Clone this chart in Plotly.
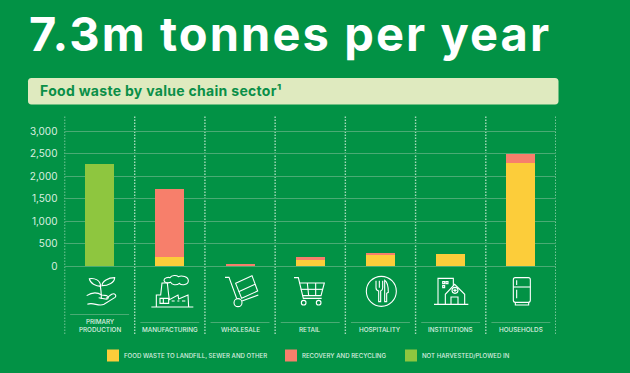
import re
import plotly.graph_objects as go

W, H = 630, 373
categories = ["PRIMARY<br>PRODUCTION", "MANUFACTURING", "WHOLESALE", "RETAIL",
              "HOSPITALITY", "INSTITUTIONS", "HOUSEHOLDS"]
landfill = [0, 200, 0, 140, 250, 260, 2300]
recovery = [0, 1522, 45, 60, 32, 0, 194]
not_harvested = [2278, 0, 0, 0, 0, 0, 0]
series_names = ["FOOD WASTE TO LANDFILL, SEWER AND OTHER", "RECOVERY AND RECYCLING", "NOT HARVESTED/PLOWED IN"]
tick_values = [0, 500, 1000, 1500, 2000, 2500, 3000]
tick_labels = ["0", "500", "1,000", "1,500", "2,000", "2,500", "3,000"]
title_text = "7.3m tonnes per year"
subtitle_text = "Food waste by value chain sector¹"

BG = "#029245"
YEL = "#fccd3a"
SAL = "#f77f6b"
GRN = "#8ec63f"
LIGHT = "#dcefe0"
GRID = "#4aab74"
FONT = "Inter"


def fx(x):
    return x / W


def fy(y):
    return 1 - y / H


def icon(path, ox):
    """Convert a path in zoomed crop units to paper coordinates."""
    toks = re.findall(r"[MLCQZ]|-?\d+\.?\d*", path)
    out, nums = [], []
    for t in toks:
        if t.isalpha():
            out.append(t)
        else:
            nums.append(float(t))
            if len(nums) == 2:
                out.append(f"{fx(ox + nums[0] / 3):.5f},{fy(265 + nums[1] / 3):.5f}")
                nums = []
    return " ".join(out)


def rounded_box(x0, y0, x1, y1, r):
    return (f"M {fx(x0 + r):.5f},{fy(y0):.5f} L {fx(x1 - r):.5f},{fy(y0):.5f} "
            f"Q {fx(x1):.5f},{fy(y0):.5f} {fx(x1):.5f},{fy(y0 + r):.5f} "
            f"L {fx(x1):.5f},{fy(y1 - r):.5f} Q {fx(x1):.5f},{fy(y1):.5f} {fx(x1 - r):.5f},{fy(y1):.5f} "
            f"L {fx(x0 + r):.5f},{fy(y1):.5f} Q {fx(x0):.5f},{fy(y1):.5f} {fx(x0):.5f},{fy(y1 - r):.5f} "
            f"L {fx(x0):.5f},{fy(y0 + r):.5f} Q {fx(x0):.5f},{fy(y0):.5f} {fx(x0 + r):.5f},{fy(y0):.5f} Z")


left_icons = [
    # plant in hand
    "M 184 102 C 184 88 184 75 180 60",
    "M 182 64 C 168 64 150 55 148 41 C 165 38 181 46 182 64 Z",
    "M 186 62 C 186 48 205 38 224 38 C 224 52 205 62 186 62 Z",
    "M 140 92 C 155 82 170 80 185 90 L 200 92 C 208 94 206 104 196 102 L 176 98",
    "M 198 100 L 215 88 C 224 83 232 92 224 98 L 192 118 C 175 126 160 110 142 118",
    # factory
    "M 334 126 L 460 126",
    "M 349 126 L 349 90 L 362 90 L 366 54 L 382 54 L 386 90 L 388 104 L 414 90 L 416 102 L 444 90 L 446 126",
    "M 360 100 L 386 100 L 386 115 L 360 115 Z",
    "M 370 100 L 370 115",
    "M 395 108 L 404 108 M 412 108 L 418 108 M 426 108 L 436 108",
    "M 372 46 C 372 38 385 36 390 38 C 395 30 410 30 415 35 C 425 30 445 35 445 47 C 445 60 425 62 418 55 C 410 62 395 60 392 52 C 385 55 372 54 372 46 Z",
    # trolley
    "M 555 37 L 567 37 L 590 100",
    "M 606 108 L 655 90",
    "M 587 55 L 636 32 L 653 78 L 605 100 Z",
    "M 596 80 L 645 58",
    # cart
    "M 762 38 L 775 38 L 790 100 L 845 100",
    "M 778 54 L 853 54 L 843 92 L 787 92",
    "M 782 73 L 849 73",
    "M 802 54 L 806 92 M 827 54 L 827 92",
]
left_circles = [(594, 113, 12), (791, 113, 7), (836, 113, 7)]

right_icons = [
    # cutlery
    "M 168 47 L 168 68 Q 168 76 176 78 L 176 110 L 182 110 L 182 78 Q 188 76 188 68 L 188 47",
    "M 178 47 L 178 68",
    "M 194 110 L 200 110 L 200 85 L 205 82 C 205 65 200 50 194 46 Z",
    # institutions
    "M 342 118 L 445 118",
    "M 354 118 L 354 40 L 400 40 L 400 62",
    "M 368 50 L 374 50 L 374 56 L 368 56 Z M 378 50 L 384 50 L 384 56 L 378 56 Z M 368 62 L 374 62 L 374 68 L 368 68 Z",
    "M 376 118 L 376 88 L 404 58 L 434 88 L 434 118",
    "M 393 118 L 393 96 L 414 96 L 414 118",
    "M 405 71 L 405 81 M 400 76 L 410 76",
    # fridge
    "M 586 38 L 625 38 Q 631 38 631 44 L 631 106 Q 631 112 625 112 L 586 112 Q 580 112 580 106 L 580 44 Q 580 38 586 38 Z",
    "M 580 66 L 631 66",
    "M 590 46 L 590 60 M 590 74 L 590 100",
    "M 586 112 L 586 120 L 626 120 L 626 112",
]
right_circles = [(184, 79, 45), (405, 76, 9)]

fig = go.Figure()
for vals, name, col in zip([landfill, recovery, not_harvested], series_names, [YEL, SAL, GRN]):
    fig.add_bar(x=categories, y=vals, name=name, marker_color=col, marker_line_width=0)

shapes = [dict(type="path", xref="paper", yref="paper", path=rounded_box(28, 78, 558.5, 104.5, 3.5),
               fillcolor="#dfeabf", line_width=0, layer="below")]
for i in range(8):
    shapes.append(dict(type="line", xref="x", yref="paper", x0=i - 0.5, x1=i - 0.5, y0=fy(334), y1=fy(115),
                       line=dict(color="#a9dabc", width=1.4, dash="1.5px,1.5px"), layer="below"))
for i in range(7):
    y = fy(314.5) if i == 0 else fy(322.5)
    shapes.append(dict(type="line", xref="x", yref="paper", x0=i - 0.42, x1=i + 0.42, y0=y, y1=y,
                       line=dict(color=GRID, width=1), layer="below"))
stroke = dict(color="white", width=1.1)
for p in left_icons:
    shapes.append(dict(type="path", xref="paper", yref="paper", path=icon(p, 40), line=stroke))
for p in right_icons:
    shapes.append(dict(type="path", xref="paper", yref="paper", path=icon(p, 320), line=stroke))
for (cx, cy, r), ox in [(c, 40) for c in left_circles] + [(c, 320) for c in right_circles]:
    shapes.append(dict(type="circle", xref="paper", yref="paper",
                       x0=fx(ox + (cx - r) / 3), x1=fx(ox + (cx + r) / 3),
                       y0=fy(265 + (cy + r) / 3), y1=fy(265 + (cy - r) / 3), line=stroke))

annotations = [
    dict(text=title_text, xref="paper", yref="paper", x=fx(290), y=fy(33), xanchor="center", yanchor="middle",
         showarrow=False, font=dict(family=FONT, size=47, color="white", weight=700)),
    dict(text=subtitle_text, xref="paper", yref="paper", x=fx(161), y=fy(91), xanchor="center", yanchor="middle",
         showarrow=False, font=dict(family=FONT, size=14, color="#0a8f48", weight=700)),
]
for i, c in enumerate(categories):
    annotations.append(dict(text=c, xref="x", yref="paper", x=i, y=fy(335.5), xanchor="center", yanchor="bottom",
                            showarrow=False, align="center",
                            font=dict(family=FONT, size=6.3, color=LIGHT, weight=500)))

fig.update_layout(
    width=W, height=H, margin=dict(l=0, r=0, t=0, b=0), autosize=False,
    paper_bgcolor=BG, plot_bgcolor=BG, barmode="stack", bargap=0.587,
    font=dict(family=FONT, color=LIGHT),
    xaxis=dict(domain=[fx(64.5), fx(556)], range=[-0.5, 6.5], showticklabels=False, showgrid=False,
               zeroline=False, ticks=""),
    yaxis=dict(domain=[fy(334), fy(115)], range=[-1514, 3363], tickvals=tick_values, ticktext=tick_labels,
               gridcolor=GRID, gridwidth=1, zeroline=False, showline=False, ticks="",
               tickfont=dict(family=FONT, size=10, color=LIGHT), ticklabelstandoff=6),
    shapes=shapes, annotations=annotations,
    legend=dict(orientation="h", x=fx(93), xanchor="left", y=fy(355.5), yanchor="middle",
                bgcolor="rgba(0,0,0,0)", traceorder="normal", itemwidth=30,
                font=dict(family=FONT, size=6.1, color=LIGHT, weight=500)),
)

post = """
document.body.style.margin = '0';
document.body.style.background = '#029245';
var offs = [0, 178, 298];
document.querySelectorAll('.legend .traces').forEach(function (g, i) {
  var m = /translate\\(([^,]+),\\s*([^)]+)\\)/.exec(g.getAttribute('transform') || '');
  if (m) { g.setAttribute('transform', 'translate(' + offs[i] + ',' + m[2] + ')'); }
  g.querySelectorAll('.legendtext').forEach(function (t) { t.setAttribute('x', '31'); });
});
var anns = document.querySelectorAll('.annotation-text');
anns.forEach(function (t) {
  if (t.textContent.indexOf('tonnes') >= 0) { t.style.letterSpacing = '2.1px'; }
  if (t.textContent.indexOf('Food waste') >= 0) { t.style.letterSpacing = '0.3px'; }
});
"""
fig.write_html("out.html", post_script=post, config=dict(displayModeBar=False))
